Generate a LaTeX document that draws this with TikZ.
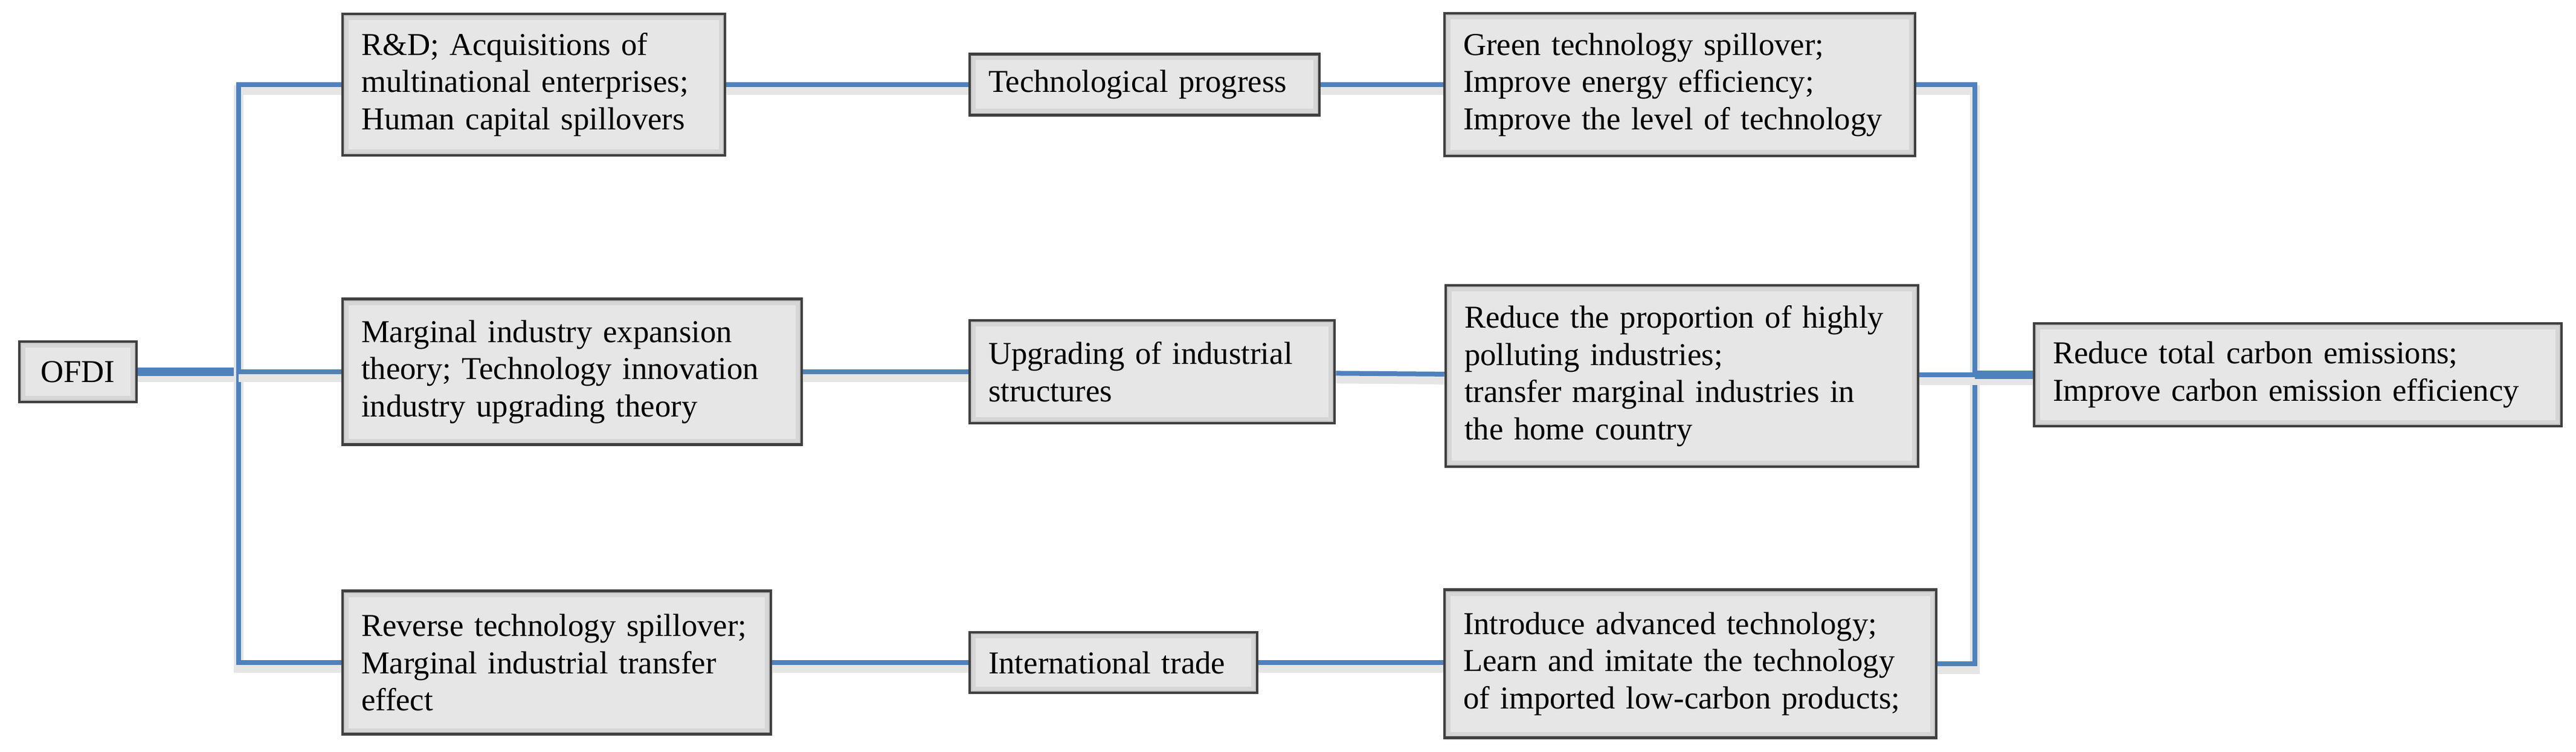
\documentclass[tikz,border=0pt]{standalone}
\usepackage{fontspec}
\setmainfont{Liberation Serif}
\usepackage{tikz}

\definecolor{linkblue}{HTML}{4F81BD}
\definecolor{boxline}{HTML}{404040}
\definecolor{boxedge}{HTML}{C4C4C4}
\definecolor{boxmid}{HTML}{D6D6D6}
\definecolor{boxin}{HTML}{E6E6E6}

\begin{document}
\begin{tikzpicture}[
			box_style/.style={rectangle,draw=boxline,line width=1.3pt,fill=boxedge,align=left,
				inner xsep=0.31cm,font=\fontsize{15pt}{17.5pt}\selectfont,
				path picture={
					\fill[boxmid] ([shift={(0.04,0.04)}]path picture bounding box.south west) rectangle ([shift={(-0.04,-0.04)}]path picture bounding box.north east);
					\fill[boxin] ([shift={(0.1,0.1)}]path picture bounding box.south west) rectangle ([shift={(-0.1,-0.1)}]path picture bounding box.north east);}},
			edge_style/.style={draw=linkblue,line width=0.08cm,
				preaction={draw=black!10,line width=0.16cm,transform canvas={yshift=-0.09cm}}},
			thick_edge/.style={edge_style,line width=0.14cm}]
			\useasboundingbox (0,0) rectangle (42.64,12.43);
			% left column
			\node[box_style,minimum width=1.94cm,minimum height=1.0cm] (nOFDI) at (1.29,6.28) {OFDI};
			\node[box_style,text width=5.71cm,minimum height=2.34cm] (nRD) at (8.835,11.03) {R\&D; Acquisitions of\\multinational enterprises;\\Human capital spillovers};
			\node[box_style,text width=6.98cm,minimum height=2.41cm] (nMarg) at (9.47,6.28) {Marginal industry expansion\\theory; Technology innovation\\industry upgrading theory};
			\node[box_style,text width=6.47cm,minimum height=2.37cm] (nRev) at (9.215,1.47) {Reverse technology spillover;\\Marginal industrial transfer\\effect};
			% channels
			\node[box_style,text width=5.17cm,minimum height=1.01cm] (nTech) at (18.945,11.03) {Technological progress};
			\node[box_style,text width=5.42cm,minimum height=1.70cm] (nUpg) at (19.07,6.28) {Upgrading of industrial\\structures};
			\node[box_style,text width=4.14cm,minimum height=1.0cm] (nTrade) at (18.43,1.47) {International trade};
			% effects
			\node[box_style,text width=7.17cm,minimum height=2.36cm] (nGreen) at (27.805,11.03) {Green technology spillover;\\Improve energy efficiency;\\Improve the level of technology};
			\node[box_style,text width=7.20cm,minimum height=3.0cm] (nPoll) at (27.84,6.21) {Reduce the proportion of highly\\polluting industries;\\transfer marginal industries in\\the home country};
			\node[box_style,text width=7.52cm,minimum height=2.45cm] (nIntro) at (27.98,1.45) {Introduce advanced technology;\\Learn and imitate the technology\\of imported low-carbon products;};
			\node[box_style,text width=8.11cm,minimum height=1.70cm] (nCarbon) at (38.035,6.23) {Reduce total carbon emissions;\\Improve carbon emission efficiency};
			\coordinate (jL) at (3.95,6.28);
			\coordinate (jR) at (32.69,6.23);
			\draw[thick_edge] (nOFDI) -- (jL);
			\draw[edge_style] (nRD.west) -| (jL);
			\draw[edge_style] (nRev.west) -| (jL);
			\draw[edge_style] (jL) -- (nMarg);
			\draw[edge_style] (nRD) -- (nTech);
			\draw[edge_style] (nTech) -- (nGreen);
			\draw[edge_style] (nMarg) -- (nUpg);
			\draw[edge_style] (nUpg) -- (nPoll);
			\draw[edge_style] (nRev) -- (nTrade);
			\draw[edge_style] (nTrade.east) -- (nIntro.west |- nTrade.east);
			\draw[edge_style] (nGreen.east) -| (jR);
			\draw[edge_style] (nIntro.east) -| (jR);
			\draw[edge_style] (nPoll.east |- jR) -- (jR);
			\draw[thick_edge] (jR) -- (nCarbon);
\end{tikzpicture}
\end{document}
